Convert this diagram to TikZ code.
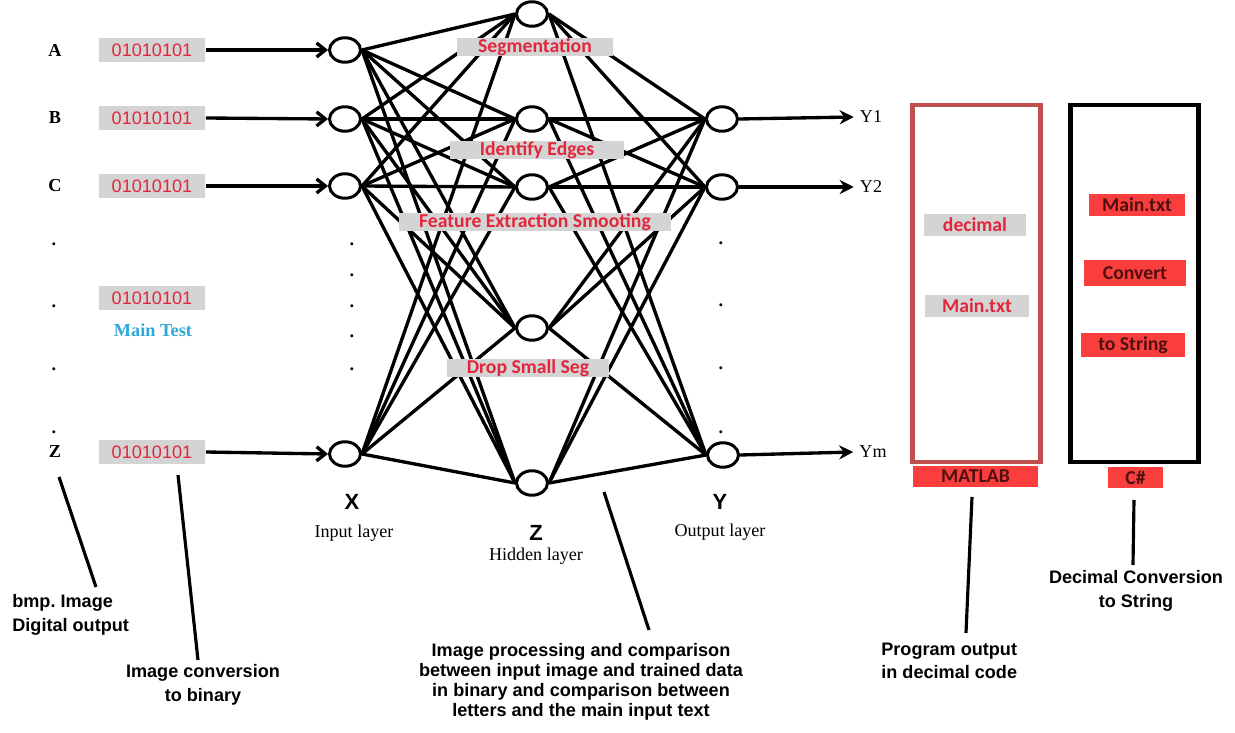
\documentclass[tikz,border=0pt]{standalone}
\usepackage{fontspec}
\setmainfont{Liberation Serif}
\setsansfont{Liberation Sans}
\newfontfamily\calibri{Carlito}
\usepackage{tikz}
\usetikzlibrary{
	positioning,
	arrows.meta,
	shapes.geometric
}
\definecolor{boxgray}{RGB}{212,212,212}
\definecolor{txtred}{RGB}{226,38,60}
\definecolor{boxred}{RGB}{250,62,62}
\definecolor{darkred}{RGB}{80,16,16}
\definecolor{matlabframe}{RGB}{192,80,77}
\definecolor{testblue}{RGB}{46,168,216}
\frenchspacing

\begin{document}
\begin{tikzpicture}[
	x=0.02cm,y=-0.02cm,
	neuron/.style={ellipse,draw,line width=1.7pt,fill=white,inner sep=0pt,minimum width=6.2mm,minimum height=4.9mm},
	link/.style={line width=1.9pt},
	bits/.style={fill=boxgray,text=txtred,font=\sffamily\fontsize{10.3}{12}\selectfont,inner sep=0pt,minimum width=21.4mm,minimum height=4.8mm},
	tag/.style={fill=boxgray,text=txtred,font=\calibri\bfseries\fontsize{11.2}{12}\selectfont,inner sep=0pt,minimum height=3.6mm},
	redtag/.style={fill=boxred,text=darkred,font=\calibri\bfseries\fontsize{11.2}{12}\selectfont,inner sep=0pt,minimum height=4.6mm},
	letter/.style={font=\bfseries\fontsize{10.4}{12}\selectfont},
	layer/.style={font=\fontsize{10.3}{12}\selectfont},
	axis/.style={font=\sffamily\bfseries\fontsize{12.5}{14}\selectfont},
	note/.style={font=\sffamily\bfseries\fontsize{10.3}{13.5}\selectfont,inner sep=0pt},
	callout/.style={line width=1.8pt},
	frame/.style={inner sep=0pt,line width=2.6pt,minimum width=25.6mm,minimum height=71.4mm}
]
	\useasboundingbox (0,0) rectangle (1235,733);
	\path
		node [neuron] (xa) at (345,50)  {}
		node [neuron] (xb) at (345,119) {}
		node [neuron] (xc) at (345,186) {}
		node [neuron] (xz) at (345,454) {}
		node [neuron] (h1) at (532,14)  {}
		node [neuron] (h2) at (532,119) {}
		node [neuron] (h3) at (532,187) {}
		node [neuron] (h4) at (532,328) {}
		node [neuron] (h5) at (532,483) {}
		node [neuron] (y1) at (722,119) {}
		node [neuron] (y2) at (722,187) {}
		node [neuron] (ym) at (723,455) {}
	;
	\foreach \a in {xa,xb,xc,xz}
		\foreach \h in {1,...,5}
			\draw[link] (\a.east) -- (h\h.west);
	\foreach \h in {1,...,5}
		\foreach \b in {y1,y2,ym}
			\draw[link] (h\h.east) -- (\b.west);
	\path
		node [tag,minimum width=31.2mm] (seg)  at (535,47)  {Segmentation}
		node [tag,minimum width=35mm]   (edge) at (537,150) {Identify Edges}
		node [tag,minimum width=54.6mm] (feat) at (535,222) {Feature Extraction Smooting}
		node [tag,minimum width=32.6mm] (drop) at (528,368) {Drop Small Seg}
	;
	\path
		node [letter] (la) at (55,50)  {A}
		node [letter] (lb) at (55,118) {B}
		node [letter] (lc) at (55,186) {C}
		node [letter] (lz) at (55,452) {Z}
		node [bits] (ba) at (152,50)  {01010101}
		node [bits] (bb) at (152,118) {01010101}
		node [bits] (bc) at (152,186) {01010101}
		node [bits] (bm) at (152,298) {01010101}
		node [bits] (bz) at (152,452) {01010101}
		node [letter,text=testblue] (main) at (153,330) {Main Test}
	;
	\foreach \y [count=\i] in {244,306,369,432}
		\node[letter] (dl\i) at (54,\y) {.};
	\foreach \y [count=\i] in {244,275,306,336,369}
		\node[letter] (dx\i) at (352,\y) {.};
	\foreach \y [count=\i] in {243,305,368,432}
		\node[letter] (dy\i) at (721,\y) {.};
	\foreach \b/\x in {ba/xa,bb/xb,bc/xc,bz/xz}
		\draw[link,-{Straight Barb[length=5pt,width=8pt]}] (\b.east) -- (\x.west);
	\path
		node [layer] (ly1) at (871,117) {Y1}
		node [layer] (ly2) at (871,187) {Y2}
		node [layer] (lym) at (873,452) {Ym}
	;
	\foreach \y/\l in {y1/ly1,y2/ly2,ym/lym}
		\draw[link,-{Stealth[length=8pt,width=8pt]}] (\y.east) -- (\l.west);
	\path
		node [axis]  (ax) at (352,502) {X}
		node [layer] (il) at (354,533) {Input layer}
		node [axis]  (az) at (536,533) {Z}
		node [layer] (hl) at (536,556) {Hidden layer}
		node [axis]  (ay) at (720,502) {Y}
		node [layer] (ol) at (720,532) {Output layer}
	;
	\node[frame,draw=matlabframe] (mat) at (976.5,283.5) {};
	\node[frame,draw=black] (cs) at (1134.5,283.5) {};
	\path
		node [tag,minimum width=20.4mm,minimum height=4.6mm] (dec)  at (975,225)  {decimal}
		node [tag,minimum width=20.8mm,minimum height=4.4mm] (mtxt) at (977,306)  {Main.txt}
		node [redtag,minimum width=19.4mm] (ctxt) at (1137,205) {Main.txt}
		node [redtag,minimum width=20.6mm,minimum height=5.4mm] (conv) at (1135,273) {Convert}
		node [redtag,minimum width=21mm,minimum height=5mm]     (tstr) at (1133,345) {to String}
		node [redtag,minimum width=25mm,minimum height=4.2mm] (mlab) at (975.5,476.5) {MATLAB}
		node [redtag,minimum width=11mm,minimum height=4.4mm] (csh)  at (1135.5,477.5) {C\#}
	;
	\path
		node [note,anchor=west,align=left] (nbmp) at (12,615) {bmp. Image\\Digital output}
		node [note,align=center] (nbin) at (203,685) {Image conversion\\to binary}
		node [note,align=center,font=\sffamily\bfseries\fontsize{10.3}{11.4}\selectfont] (nproc) at (581,682)
			{Image processing and comparison\\between input image and trained data\\in binary and comparison between\\letters and the main input text}
		node [note,anchor=west,align=left] (nprog) at (881,661) {Program output\\in decimal code}
		node [note,align=center] (nstr) at (1136,591) {Decimal Conversion\\to String}
	;
	\coordinate (tbmp)  at (59,477);
	\coordinate (ebmp)  at (96,587);
	\coordinate (tbin)  at (178,475);
	\coordinate (ebin)  at (198,660);
	\coordinate (tproc) at (604,492);
	\coordinate (eproc) at (649,630);
	\coordinate (tprog) at (972,497);
	\coordinate (eprog) at (966,633);
	\coordinate (tstr2) at (1134,500);
	\coordinate (estr2) at (1133,565);
	\foreach \t/\e in {tbmp/ebmp,tbin/ebin,tproc/eproc,tprog/eprog,tstr2/estr2}
		\draw[callout] (\t) -- (\e);
\end{tikzpicture}
\end{document}
